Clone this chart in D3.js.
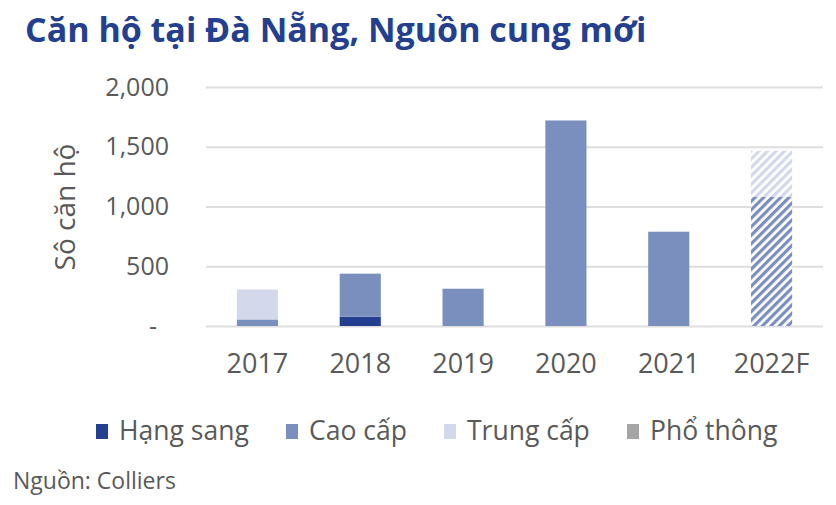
<!DOCTYPE html>
<html><head><meta charset="utf-8">
<script src="https://cdn.jsdelivr.net/npm/d3@7"></script>
<style>body{margin:0;background:#fff}svg{display:block}text{font-family:"Open Sans",sans-serif}</style>
</head><body><svg id="c" width="836" height="505"></svg>
<script>
const categories = ["2017","2018","2019","2020","2021","2022F"];
const hangSang  = [0, 78, 0, 0, 0, 0];
const caoCap    = [55, 360, 312, 1720, 789, 1082];
const trungCap  = [250, 0, 0, 0, 0, 385];
const phoThong  = [0, 0, 0, 0, 0, 0];
const forecastCategories = ["2022F"];
const seriesNames = ["Hạng sang","Cao cấp","Trung cấp","Phổ thông"];
const yTicks = [0, 500, 1000, 1500, 2000];
const colors = ["#243f8f","#7a8fbd","#d3d9ea","#a5a5a5"];

const svg = d3.select("#c");
const x = d3.scaleBand().domain(categories).range([206, 823]).paddingInner(0.6).paddingOuter(0.3);
const y = d3.scaleLinear().domain([0, 2000]).range([326, 87]);

// hatch patterns
const defs = svg.append("defs");
colors.forEach((c, i) => {
  const p = defs.append("pattern").attr("id", "h" + i).attr("patternUnits", "userSpaceOnUse")
    .attr("width", 6).attr("height", 6).attr("patternTransform", "rotate(45)");
  p.append("rect").attr("width", 6).attr("height", 6).attr("fill", "#fff");
  p.append("rect").attr("width", 3.2).attr("height", 6).attr("fill", c);
});

// title
svg.append("text").attr("x", 25).attr("y", 42).attr("font-size", 34).attr("font-weight", 700)
  .attr("fill", "#243f8f").text("Căn hộ tại Đà Nẵng, Nguồn cung mới");

// grid
const yAxis = d3.axisLeft(y).tickValues(yTicks).tickSize(-(823 - 206))
  .tickFormat(d => d === 0 ? "-" : d3.format(",")(d));
const gy = svg.append("g").attr("transform", "translate(206,0)").call(yAxis);
gy.select(".domain").remove();
gy.selectAll(".tick line").attr("stroke", "#dedede").attr("stroke-width", 2);
gy.selectAll(".tick text").attr("x", -37).attr("font-size", 25).attr("fill", "#595959")
  .attr("dx", d => d === 0 ? -12 : 0);

// bars
const series = [hangSang, caoCap, trungCap, phoThong];
const stacked = d3.stack().keys([0,1,2,3]).value((d, k) => series[k][d])(categories.map((c, i) => i));
stacked.forEach((layer, k) => {
  svg.append("g").selectAll("rect").data(layer).join("rect")
    .attr("x", (d, i) => x(categories[i]))
    .attr("width", x.bandwidth())
    .attr("y", d => y(d[1]))
    .attr("height", d => y(d[0]) - y(d[1]))
    .attr("fill", (d, i) => forecastCategories.includes(categories[i]) ? "url(#h" + k + ")" : colors[k]);
});

// x labels
const xAxis = d3.axisBottom(x).tickSize(0);
const gx = svg.append("g").attr("transform", "translate(0,326)").call(xAxis);
gx.select(".domain").remove();
gx.selectAll(".tick text").attr("font-size", 27).attr("fill", "#595959").attr("dy", 0).attr("y", 47);

// y title
svg.append("text").attr("transform", "translate(75,207) rotate(-90)").attr("text-anchor", "middle")
  .attr("font-size", 28).attr("fill", "#595959").text("Sô căn hộ");

// legend
const legX = [96, 286, 444, 627];
const lg = svg.append("g").selectAll("g").data(seriesNames).join("g")
  .attr("transform", (d, i) => `translate(${legX[i]},0)`);
lg.append("rect").attr("y", 424).attr("width", 12).attr("height", 15).attr("fill", (d, i) => colors[i]);
lg.append("text").attr("x", 23).attr("y", 440).attr("font-size", 26.5).attr("fill", "#595959").text(d => d);

// source
svg.append("text").attr("x", 13).attr("y", 489).attr("font-size", 23).attr("fill", "#595959").text("Nguồn: Colliers");
</script></body></html>
